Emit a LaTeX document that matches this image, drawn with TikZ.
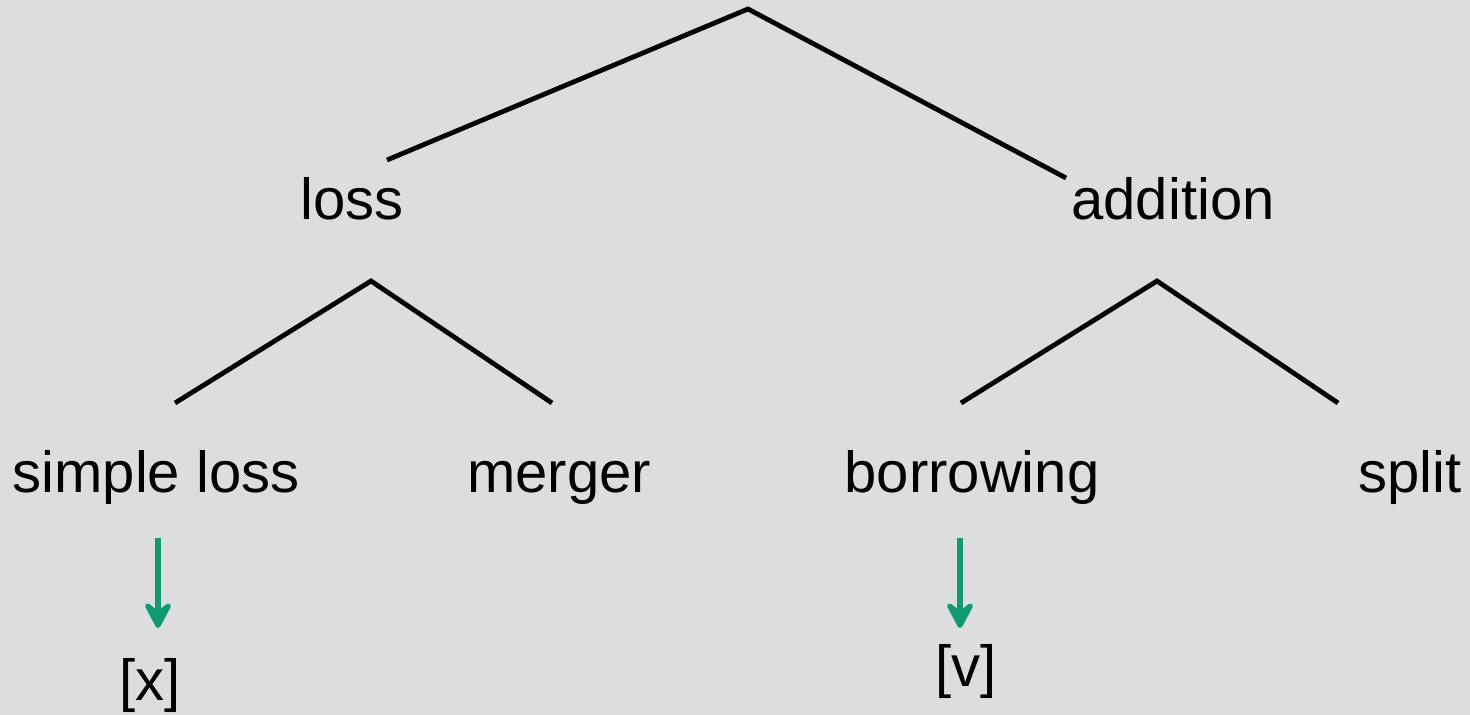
\documentclass[tikz,border=0pt]{standalone}
\usepackage{fontspec}
\setmainfont{Liberation Sans}
\usetikzlibrary{arrows.meta}
\definecolor{bg}{HTML}{DDDDDD}
\definecolor{arrowgreen}{HTML}{0E9A72}
\begin{document}
\begin{tikzpicture}[x=0.5pt,y=-0.5pt,
  branch/.style={line width=2.4pt,black,line cap=butt},
  label/.style={anchor=base,inner sep=0pt,font=\fontsize{29}{34}\selectfont},
  downarrow/.style={line width=2.6pt,arrowgreen,-{Stealth[length=17pt,width=18pt,inset=7pt,round]}}]
  \fill[bg] (0,0) rectangle (1470,715);
  \useasboundingbox (0,0) rectangle (1470,715);

  % top split
  \coordinate (root) at (748,9);
  \coordinate (rootL) at (387,160);
  \coordinate (rootR) at (1066,178);
  \draw[branch] (rootL) -- (root) -- (rootR);

  \node[label] (loss) at (352,220) {loss};
  \node[label] (addition) at (1173,220) {addition};

  % loss subtree
  \coordinate (lossTop) at (371,281);
  \coordinate (lossL) at (175,403);
  \coordinate (lossR) at (552,403);
  \draw[branch] (lossL) -- (lossTop) -- (lossR);

  % addition subtree
  \coordinate (addTop) at (1157,281);
  \coordinate (addL) at (961,403);
  \coordinate (addR) at (1338,403);
  \draw[branch] (addL) -- (addTop) -- (addR);

  \node[label] (simple) at (156,492) {simple loss};
  \node[label] (merger) at (559,492) {merger};
  \node[label] (borrowing) at (972,492) {borrowing};
  \node[label] (split) at (1410,492) {split};

  % examples
  \coordinate (xStart) at (158,538);
  \coordinate (xEnd) at (158,628);
  \draw[downarrow] (xStart) -- (xEnd);
  \node[label] (x) at (150,700) {[x]};

  \coordinate (vStart) at (960,538);
  \coordinate (vEnd) at (960,628);
  \draw[downarrow] (vStart) -- (vEnd);
  \node[label] (v) at (966,686) {[v]};
\end{tikzpicture}
\end{document}
